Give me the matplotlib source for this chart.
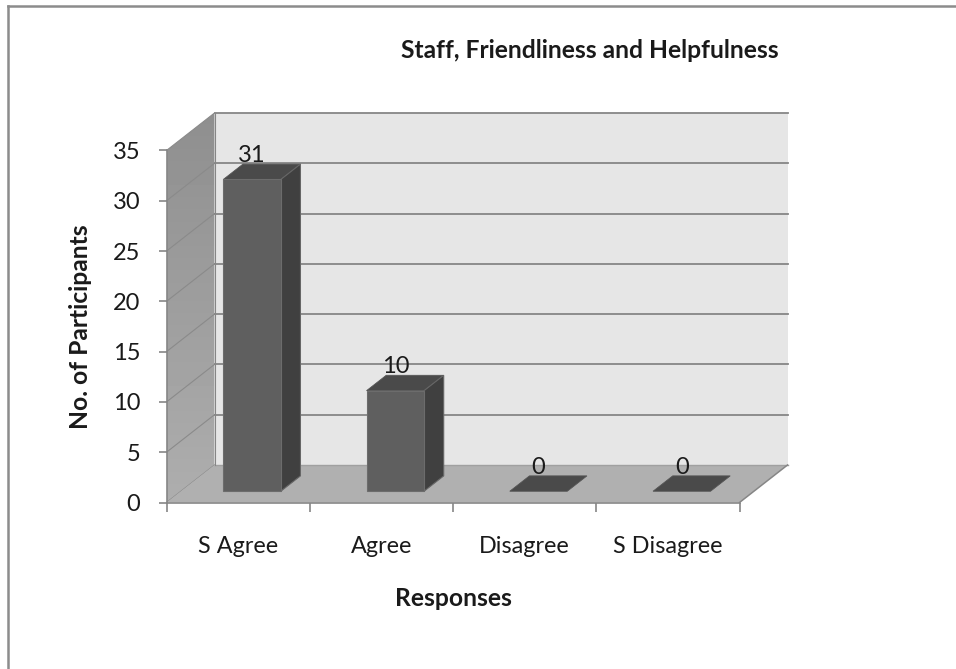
#!/usr/bin/env python3
"""Staff, Friendliness and Helpfulness - fake 3D column chart."""
import matplotlib
matplotlib.use("Agg")
import matplotlib.pyplot as plt
import numpy as np
from matplotlib.patches import Polygon

categories = ["S Agree", "Agree", "Disagree", "S Disagree"]
participants = [31, 10, 0, 0]
y_ticks = [0, 5, 10, 15, 20, 25, 30, 35]

W, H = 956, 669
AX_LEFT, AX_RIGHT, AX_TOP, AX_BOTTOM = 166.5, 739.5, 150.5, 502.5

plt.rcParams["font.family"] = ["Lato", "DejaVu Sans"]
TEXT = "#1a1a1a"
GRID = "#868686"

fig = plt.figure(figsize=(W / 100, H / 100), dpi=100, facecolor="white")
ax = fig.add_axes([AX_LEFT / W, 1 - AX_BOTTOM / H, (AX_RIGHT - AX_LEFT) / W, (AX_BOTTOM - AX_TOP) / H])
ax.patch.set_visible(False)

# depth of the box, in data units
n = len(categories)
px_x = (AX_RIGHT - AX_LEFT) / n
px_y = (AX_BOTTOM - AX_TOP) / 35
DX = 48 / px_x
DY = 37.5 / px_y


def proj(x, y, d):
    """x/y in data units, d = depth from 0 (front) to 1 (back)"""
    return (x + d * DX, y + d * DY)


def face(points, **kw):
    kw.setdefault("linewidth", 0)
    ax.add_patch(Polygon(points, closed=True, clip_on=False, **kw))


# back wall, floor
face([proj(0, 0, 1), proj(n, 0, 1), proj(n, 35, 1), proj(0, 35, 1)], facecolor="#e6e6e6", zorder=1)
face([proj(0, 0, 0), proj(n, 0, 0), proj(n, 0, 1), proj(0, 0, 1)], facecolor="#b0b0b0", zorder=1.5)

# side wall with its gradient
wall = Polygon([proj(0, 0, 0), proj(0, 0, 1), proj(0, 35, 1), proj(0, 35, 0)], closed=True,
               facecolor="none", linewidth=0, clip_on=False)
ax.add_patch(wall)
img = ax.imshow(np.linspace(0.56, 0.68, 64).reshape(-1, 1), cmap="gray", vmin=0, vmax=1,
                extent=(0, DX, 0, 35 + DY), origin="upper", aspect="auto", zorder=1.2)
img.set_clip_box(fig.bbox)
img.set_clip_path(wall)
ax.set_xlim(0, n)
ax.set_ylim(0, 35)

# gridlines on the walls
for t in y_ticks:
    a, b, c = proj(0, t, 0), proj(0, t, 1), proj(n, t, 1)
    ax.plot([a[0], b[0]], [a[1], b[1]], color="#8a8a8a", lw=0.8, zorder=1.3, clip_on=False)
    if t > 0:
        ax.plot([b[0], c[0]], [b[1], c[1]], color=GRID, lw=1.3, zorder=1.3, clip_on=False)
# floor edges
ax.plot(*zip(proj(0, 0, 1), proj(n, 0, 1)), color="#a0a0a0", lw=1.0, zorder=1.6, clip_on=False)
ax.plot(*zip(proj(n, 0, 0), proj(n, 0, 1)), color=GRID, lw=1.1, zorder=1.6, clip_on=False)
ax.plot(*zip(proj(0, 0, 1), proj(0, 35, 1)), color=GRID, lw=0.8, zorder=1.6, clip_on=False)

# columns
BAR_W = 57.5 / px_x
D0, D1 = 0.30, 0.71
SHIFT = -0.5 / px_x
for i, v in enumerate(participants):
    x0 = i + 0.5 - BAR_W / 2 + SHIFT
    x1 = x0 + BAR_W
    z = 3 + i
    if v > 0:
        face([proj(x0, 0, D0), proj(x1, 0, D0), proj(x1, v, D0), proj(x0, v, D0)],
             facecolor="#5f5f5f", edgecolor="#6c6c6c", linewidth=0.8, zorder=z + 0.2)
        face([proj(x1, 0, D0), proj(x1, 0, D1), proj(x1, v, D1), proj(x1, v, D0)],
             facecolor="#404040", edgecolor="#666666", linewidth=0.8, zorder=z + 0.1)
    face([proj(x0, v, D0), proj(x1, v, D0), proj(x1, v, D1), proj(x0, v, D1)],
         facecolor="#4a4a4a", edgecolor="#555555", linewidth=0.6, zorder=z)
    lx, ly = proj(i + 0.5, v, D1)
    ax.annotate(str(v), (lx, ly), xytext=(-14.5, 1.4), textcoords="offset points", ha="center", va="baseline",
                fontsize=17, color=TEXT, zorder=10, annotation_clip=False)

# axes
for side in ("top", "right"):
    ax.spines[side].set_visible(False)
for side in ("left", "bottom"):
    ax.spines[side].set_color(GRID)
    ax.spines[side].set_linewidth(1.2)
    ax.spines[side].set_zorder(2)
ax.set_yticks(y_ticks)
ax.set_xticks(range(n + 1))
ax.set_xticklabels([])
ax.set_xticks(np.arange(n) + 0.5, labels=categories, minor=True)
ax.tick_params(axis="y", which="major", length=6, width=1.2, color=GRID, labelsize=17, labelcolor=TEXT, pad=13)
ax.tick_params(axis="x", which="major", length=6.5, width=1.2, color=GRID)
ax.tick_params(axis="x", which="minor", length=0, labelsize=16.8, labelcolor=TEXT, pad=24)

fig.text(589.5 / W, 1 - 50 / H, "Staff, Friendliness and Helpfulness", ha="center", va="center",
         fontsize=17.7, fontweight="bold", color=TEXT)
fig.text(80 / W, 1 - 327 / H, "No. of Participants", ha="center", va="center", rotation=90,
         fontsize=17.7, fontweight="bold", color=TEXT)
fig.text(453 / W, 1 - 598 / H, "Responses", ha="center", va="center",
         fontsize=17.7, fontweight="bold", color=TEXT)

# picture frame, top and left only
fig.add_artist(plt.Line2D([8 / W, 8 / W], [0, 1 - 6 / H], color="#8c8c8c", lw=1.8))
fig.add_artist(plt.Line2D([8 / W, 1], [1 - 6 / H, 1 - 6 / H], color="#8c8c8c", lw=1.8))

fig.savefig("out.png", dpi=100)
